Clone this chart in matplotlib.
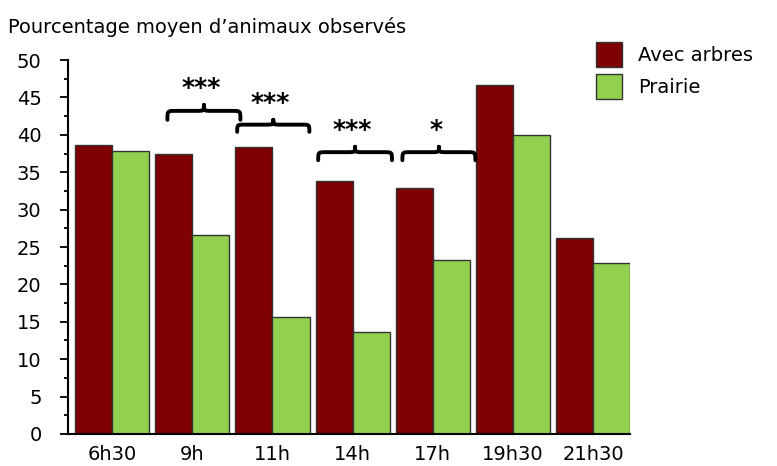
import numpy as np
import matplotlib.pyplot as plt
from matplotlib.path import Path
from matplotlib.patches import PathPatch, Patch

hours = ['6h30', '9h', '11h', '14h', '17h', '19h30', '21h30']
avec_arbres = [38.6, 37.4, 38.4, 33.8, 32.9, 46.7, 26.2]
prairie = [37.8, 26.6, 15.7, 13.6, 23.3, 40.0, 22.9]

# significance brackets: (x start, x end, y ends, y tip, label)
sig_x0 = [0.69, 1.56, 2.57, 3.62]
sig_x1 = [1.60, 2.46, 3.49, 4.53]
sig_y0 = [42.0, 40.4, 36.6, 36.6]
sig_y1 = [44.0, 42.0, 38.4, 38.4]
sig_labels = ['***', '***', '***', '*']

red = '#7f0000'
green = '#92d050'
edge = '#333333'


def curly_brace(ax, x0, x1, y0, y1, q=0.1):
    xc = (x0 + x1) / 2
    ym = y0 + 0.6 * (y1 - y0)
    verts = [(x0, y0), (x0, ym), (x0, ym), (x0 + q, ym),
             (xc - q, ym),
             (xc, ym), (xc, ym), (xc, y1),
             (xc, ym), (xc, ym), (xc + q, ym),
             (x1 - q, ym),
             (x1, ym), (x1, ym), (x1, y0)]
    codes = [Path.MOVETO, Path.CURVE4, Path.CURVE4, Path.CURVE4,
             Path.LINETO,
             Path.CURVE4, Path.CURVE4, Path.CURVE4,
             Path.CURVE4, Path.CURVE4, Path.CURVE4,
             Path.LINETO,
             Path.CURVE4, Path.CURVE4, Path.CURVE4]
    ax.add_patch(PathPatch(Path(verts, codes), fill=False, lw=2.8,
                           edgecolor='black', capstyle='round', joinstyle='round'))


fig = plt.figure(figsize=(7.77, 4.66), dpi=100)
ax = fig.add_axes([0.0875, 0.0687, 0.7235, 0.8025])

x = np.arange(len(hours))
w = 0.4625
ax.bar(x - w / 2, avec_arbres, w, color=red, edgecolor=edge, linewidth=1)
ax.bar(x + w / 2, prairie, w, color=green, edgecolor=edge, linewidth=1)

for x0, x1, y0, y1, lab in zip(sig_x0, sig_x1, sig_y0, sig_y1, sig_labels):
    curly_brace(ax, x0, x1, y0, y1)
    ax.text((x0 + x1) / 2 - 0.04, y1 + 0.6, lab, ha='center', va='bottom',
            fontsize=18, fontweight='bold')

ax.set_xlim(-0.55, 6.46)
ax.set_ylim(0, 50)
ax.set_xticks(x)
ax.set_xticklabels(hours, fontsize=14)
ax.set_yticks(np.arange(0, 51, 5))
ax.set_yticks(np.arange(0, 50, 2.5), minor=True)
ax.tick_params(axis='y', which='major', length=6, width=1.3, labelsize=14, pad=13)
ax.tick_params(axis='y', which='minor', length=3, width=1.3)
ax.tick_params(axis='x', length=0, pad=8)

for s in ['top', 'right']:
    ax.spines[s].set_visible(False)
ax.spines['left'].set_linewidth(1.5)
ax.spines['bottom'].set_linewidth(1.5)

fig.text(0.01, 0.942, "Pourcentage moyen d\u2019animaux observés", fontsize=14,
         ha='left', va='center')

handles = [Patch(facecolor=red, edgecolor=edge), Patch(facecolor=green, edgecolor=edge)]
fig.legend(handles, ['Avec arbres', 'Prairie'], loc='upper left',
           bbox_to_anchor=(0.762, 0.918), frameon=False, fontsize=14,
           handlelength=1.35, handleheight=1.6, handletextpad=0.8, labelspacing=0.35,
           borderaxespad=0, borderpad=0.2)

fig.savefig('out.png', dpi=100)
